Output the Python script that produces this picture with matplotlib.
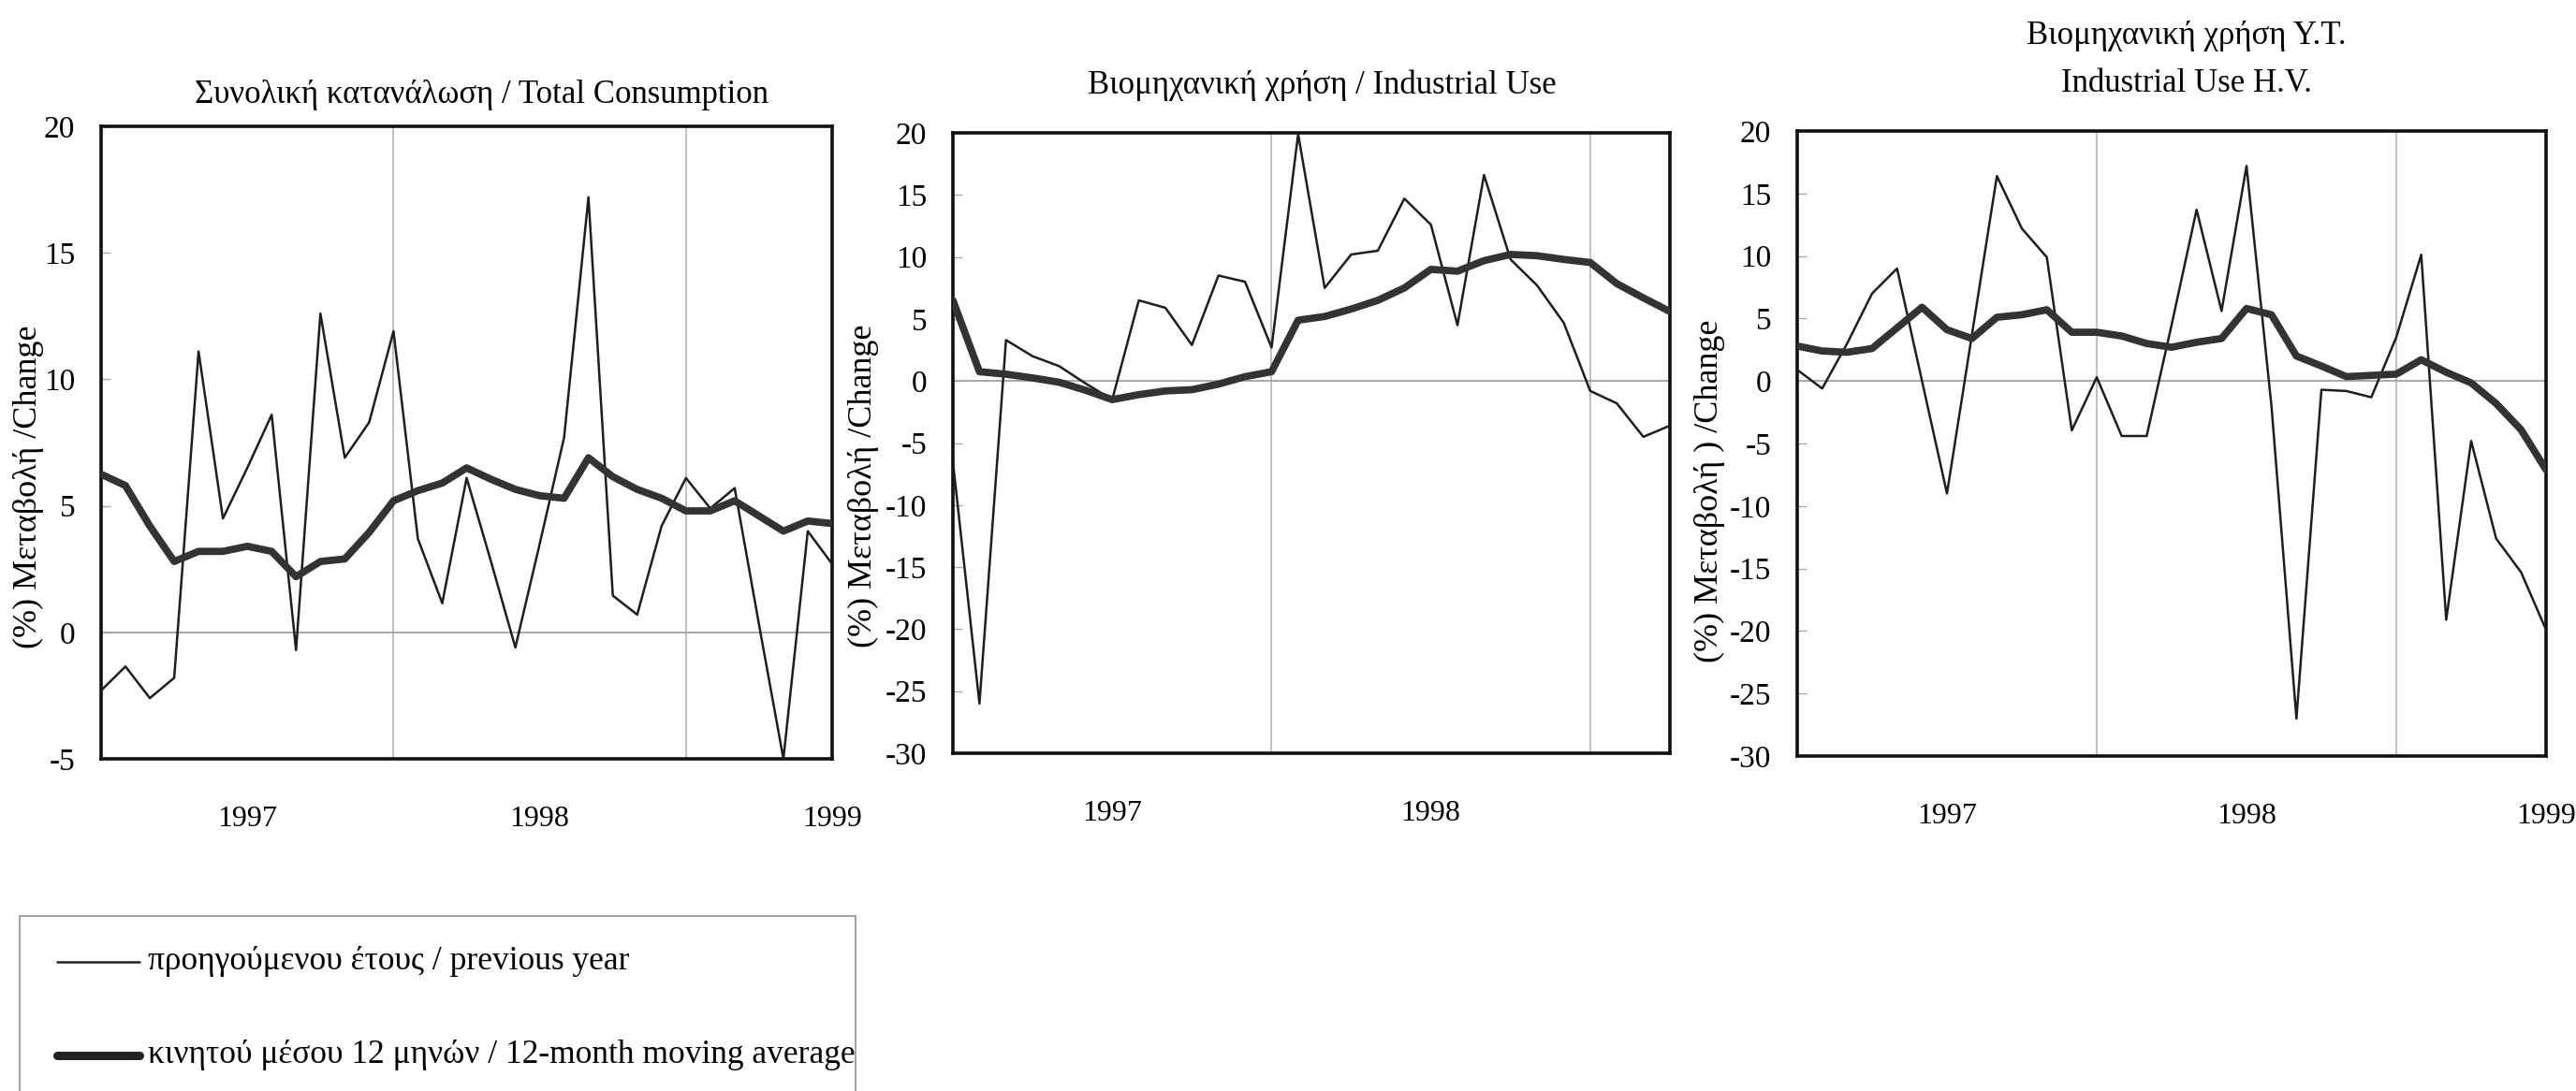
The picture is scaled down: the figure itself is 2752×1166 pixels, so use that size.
import matplotlib
matplotlib.use("Agg")
import matplotlib.pyplot as plt
from matplotlib.lines import Line2D
from matplotlib.patches import Rectangle

plt.rcParams['font.family'] = ['Liberation Serif', 'DejaVu Serif']

# ---------------- data (monthly, index 0 = Jul 1996) ----------------
total_prev = [-2.3, -1.35, -2.6, -1.8, 11.1, 4.5, 6.5, 8.6, -0.7, 12.6,
              6.9, 8.3, 11.9, 3.7, 1.15, 6.1, 2.8, -0.6, 3.5, 7.7,
              17.2, 1.45, 0.7, 4.2, 6.1, 4.9, 5.7, 0.3, -5.0, 4.0, 2.7]
total_ma = [6.25, 5.8, 4.2, 2.8, 3.2, 3.2, 3.4, 3.2, 2.2, 2.8,
            2.9, 3.95, 5.2, 5.6, 5.9, 6.5, 6.05, 5.65, 5.4, 5.3,
            6.9, 6.15, 5.65, 5.3, 4.8, 4.8, 5.2, 4.6, 4.0, 4.4, 4.3]

ind_prev = [-6.5, -26.0, 3.3, 2.0, 1.2, -0.2, -1.5, 6.5, 5.9, 2.9,
            8.5, 8.0, 2.7, 19.9, 7.5, 10.2, 10.5, 14.7, 12.6, 4.5,
            16.6, 9.8, 7.7, 4.7, -0.8, -1.8, -4.5, -3.6]
ind_ma = [6.5, 0.75, 0.55, 0.25, -0.1, -0.75, -1.5, -1.1, -0.8, -0.7,
          -0.25, 0.35, 0.75, 4.9, 5.2, 5.8, 6.5, 7.5, 9.0, 8.85,
          9.7, 10.2, 10.1, 9.8, 9.55, 7.85, 6.7, 5.6]

hv_prev = [0.9, -0.6, 3.0, 7.0, 9.0, 0.0, -9.0, 3.7, 16.4, 12.2,
           9.9, -3.95, 0.3, -4.4, -4.4, 4.5, 13.7, 5.6, 17.2, -2.0,
           -27.0, -0.7, -0.8, -1.3, 3.5, 10.1, -19.1, -4.8, -12.6, -15.3, -19.9]
hv_ma = [2.8, 2.4, 2.3, 2.6, 4.25, 5.9, 4.1, 3.4, 5.1, 5.3,
         5.7, 3.9, 3.9, 3.6, 3.0, 2.7, 3.1, 3.4, 5.8, 5.3,
         2.0, 1.2, 0.35, 0.45, 0.55, 1.7, 0.7, -0.15, -1.8, -3.9, -7.1]

year_labels = ['1997', '1998', '1999']
year_pos = [6, 18, 30]
grid_pos = [12, 24]

titles = ['Συνολική κατανάλωση / Total Consumption',
          'Βιομηχανική χρήση / Industrial Use',
          'Βιομηχανική χρήση Υ.Τ.\nIndustrial Use H.V.']
ylabels = ['(%) Μεταβολή /Change',
           '(%) Μεταβολή /Change',
           '(%) Μεταβολή ) /Change']
legend_labels = ['προηγούμενου έτους / previous year',
                 'κινητού μέσου 12 μηνών / 12-month moving average']

# ---------------- figure ----------------
W, H = 2752, 1166
fig = plt.figure(figsize=(W / 100, H / 100), dpi=100)
fig.patch.set_facecolor('white')


def px_box(left, top, right, bottom):
    return [left / W, 1 - bottom / H, (right - left) / W, (bottom - top) / H]


panels = [
    dict(box=px_box(108, 135, 889, 811), prev=total_prev, ma=total_ma,
         ylim=(-5, 20), yticks=range(-5, 21, 5), nyears=3,
         title_xy=(514, 102), ylab_x=30, ylab_y=520),
    dict(box=px_box(1018, 142, 1784, 805), prev=ind_prev, ma=ind_ma,
         ylim=(-30, 20), yticks=range(-30, 21, 5), nyears=2,
         title_xy=(1412, 91), ylab_x=922, ylab_y=519),
    dict(box=px_box(1920, 140, 2720, 808), prev=hv_prev, ma=hv_ma,
         ylim=(-30, 20), yticks=range(-30, 21, 5), nyears=3,
         title_xy=(2336, 64), ylab_x=1826, ylab_y=525),
]

line_col = '#1e1e1e'
for i, p in enumerate(panels):
    ax = fig.add_axes(p['box'])
    n = len(p['prev'])
    x = list(range(n))
    ax.set_xlim(0, n - 1)
    ax.set_ylim(*p['ylim'])
    for g in grid_pos:
        ax.axvline(g, color='#b5b5b5', lw=1.2, zorder=1)
    ax.axhline(0, color='#9a9a9a', lw=1.2, zorder=1)
    ax.plot(x, p['prev'], color=line_col, lw=1.8, zorder=3)
    ax.plot(x, p['ma'], color='#333333', lw=5.6, zorder=4,
            solid_joinstyle='round', solid_capstyle='round')
    ax.set_yticks(list(p['yticks']))
    ax.set_yticklabels([str(v) for v in p['yticks']], fontsize=24)
    ax.tick_params(axis='y', direction='in', length=7, width=1,
                   color='#aaaaaa', pad=20)
    ax.set_xticks(year_pos[:p['nyears']])
    ax.set_xticklabels(year_labels[:p['nyears']], fontsize=23)
    ax.tick_params(axis='x', length=0, pad=36)
    for s in ax.spines.values():
        s.set_linewidth(2.6)
        s.set_color('#111111')
    tx, ty = p['title_xy']
    fig.text(tx / W, 1 - ty / H, titles[i], ha='center', va='center',
             fontsize=25, linespacing=1.75)
    fig.text(p['ylab_x'] / W, 1 - p['ylab_y'] / H, ylabels[i],
             rotation=90, ha='center', va='center', fontsize=26)

# ---------------- legend box ----------------
fig.patches.append(Rectangle((21 / W, 1 - 1200 / H), (914 - 21) / W,
                             (1200 - 979) / H, transform=fig.transFigure,
                             fill=False, edgecolor='#9a9a9a', lw=1.3))
for k, (yy, lw) in enumerate([(1028, 1.8), (1128, 6.5)]):
    fig.add_artist(Line2D([61 / W, 149 / W], [1 - yy / H, 1 - yy / H],
                          transform=fig.transFigure, color='#222222', lw=lw,
                          solid_capstyle='round'))
    fig.text(158 / W, 1 - yy / H, legend_labels[k], ha='left', va='center',
             fontsize=25.5)

fig.savefig('out.png', dpi=100, facecolor='white')
